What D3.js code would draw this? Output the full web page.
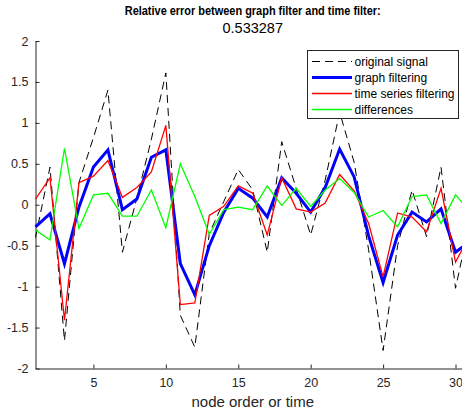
<!DOCTYPE html>
<html>
<head>
<meta charset="utf-8">
<script src="https://cdn.jsdelivr.net/npm/d3@7"></script>
<style>
  body { margin: 0; background: #fff; }
  svg { display: block; }
  text { font-family: "Liberation Sans", Arial, Helvetica, sans-serif; fill: #262626; }
</style>
</head>
<body>
<svg id="chart" width="462" height="418"></svg>
<script>
// Node index (x axis)
const nodes = [1, 2, 3, 4, 5, 6, 7, 8, 9, 10, 11, 12, 13, 14, 15, 16, 17, 18, 19, 20, 21, 22, 23, 24, 25, 26, 27, 28, 29, 30, 31];

// Signal values per node
const originalSignal = [-0.40, 0.46, -1.66, 0.27, 0.82, 1.40, -0.58, 0.08, 0.80, 1.61, -1.35, -1.74, -0.35, 0.04, 0.43, 0.18, -0.58, 0.77, 0.20, -0.37, 0.30, 1.13, 0.52, -0.55, -1.78, -0.50, 0.18, -0.39, 0.46, -1.02, -0.20];
const graphFiltering = [-0.27, -0.11, -0.72, -0.03, 0.46, 0.67, -0.06, 0.07, 0.58, 0.67, -0.72, -1.10, -0.50, -0.09, 0.20, 0.08, -0.15, 0.33, 0.14, -0.09, 0.21, 0.68, 0.34, -0.38, -0.95, -0.37, -0.09, -0.21, -0.05, -0.58, -0.45];
const timeSeriesFiltering = [0.07, 0.33, -1.41, 0.27, 0.35, 0.54, 0.09, 0.21, 0.40, 0.97, -1.22, -1.20, -0.13, -0.02, 0.23, 0.14, -0.37, 0.33, -0.05, -0.09, 0.02, 0.37, 0.17, -0.23, -0.88, -0.10, -0.15, -0.33, 0.20, -0.70, -0.37];
const differences = [-0.31, -0.43, 0.69, -0.29, 0.12, 0.14, -0.14, -0.14, 0.18, -0.28, 0.50, 0.10, -0.36, -0.06, -0.03, -0.06, 0.23, -0.01, 0.20, -0.02, 0.18, 0.32, 0.15, -0.15, -0.07, -0.27, 0.10, 0.12, -0.23, 0.12, -0.08];

// Axis ticks and labels
const xTicks = [5, 10, 15, 20, 25, 30];
const yTicks = [-2, -1.5, -1, -0.5, 0, 0.5, 1, 1.5, 2];
const titleLines = ["Relative error between graph filter and time filter:", "0.533287"];
const xLabel = "node order or time";

const seriesNames = ["original signal", "graph filtering", "time series filtering", "differences"];
const seriesColors = ["#000000", "#0000ff", "#ff0000", "#00ff00"];

(function draw() {
  const svg = d3.select("#chart");
  const m = { left: 35.5, right: 470, top: 41, bottom: 368.5 };
  const axisColor = "#262626";

  const x = d3.scaleLinear().domain([1, 31]).range([m.left, m.right]);
  const y = d3.scaleLinear().domain([-2, 2]).range([m.bottom, m.top]);

  // Axes: ticks point inward, labels outside
  const xAxis = d3.axisBottom(x).tickValues(xTicks).tickSizeInner(-4).tickSizeOuter(0).tickPadding(10).tickFormat(d3.format("d"));
  const yAxis = d3.axisLeft(y).tickValues(yTicks).tickSizeInner(-4).tickSizeOuter(0).tickPadding(7).tickFormat(d => String(d));

  const gx = svg.append("g").attr("transform", `translate(0,${m.bottom})`).call(xAxis);
  const gy = svg.append("g").attr("transform", `translate(${m.left},0)`).call(yAxis);
  [gx, gy].forEach(g => {
    g.select(".domain").attr("stroke", axisColor).attr("stroke-width", 1);
    g.selectAll(".tick line").attr("stroke", axisColor).attr("stroke-width", 1);
    g.selectAll(".tick text").style("fill", axisColor).style("font-size", "12.5px").style("font-family", '"Liberation Sans", Arial, sans-serif');
  });

  // Plot lines
  const plot = svg.append("g");
  const lineGen = vals => d3.line().x((d, i) => x(nodes[i])).y(d => y(d))(vals);
  const seriesData = [originalSignal, graphFiltering, timeSeriesFiltering, differences];
  const widths = [1, 3, 1.3, 1.3];
  const dashes = ["8,5", null, null, null];
  seriesData.forEach((vals, k) => {
    plot.append("path")
      .attr("d", lineGen(vals))
      .attr("fill", "none")
      .attr("stroke", seriesColors[k])
      .attr("stroke-width", widths[k])
      .attr("stroke-dasharray", dashes[k])
      .attr("stroke-linejoin", "miter");
  });

  // Title (two lines)
  const cx = (m.left + m.right) / 2;
  svg.append("text").attr("x", cx).attr("y", 15).attr("text-anchor", "middle")
    .attr("textLength", 256).attr("lengthAdjust", "spacingAndGlyphs")
    .style("font-size", "13px").style("font-weight", "bold").style("fill", "#000").text(titleLines[0]);
  svg.append("text").attr("x", cx).attr("y", 33).attr("text-anchor", "middle")
    .style("font-size", "14.5px").style("fill", "#000").text(titleLines[1]);

  // X label
  svg.append("text").attr("x", cx).attr("y", 407).attr("text-anchor", "middle")
    .style("font-size", "15px").text(xLabel);

  // Legend
  const lg = svg.append("g").attr("transform", "translate(307.5,50.5)");
  lg.append("rect").attr("width", 151).attr("height", 68).attr("fill", "#fff").attr("stroke", axisColor).attr("stroke-width", 1);
  const rowY = [11, 27, 43, 59];
  seriesNames.forEach((name, k) => {
    lg.append("line").attr("x1", 4.5).attr("x2", 44.5).attr("y1", rowY[k]).attr("y2", rowY[k])
      .attr("stroke", seriesColors[k]).attr("stroke-width", widths[k]).attr("stroke-dasharray", dashes[k]);
    lg.append("text").attr("x", 47).attr("y", rowY[k]).attr("dy", "0.35em")
      .style("font-size", "12px").style("fill", "#000").text(name);
  });
})();
</script>
</body>
</html>
